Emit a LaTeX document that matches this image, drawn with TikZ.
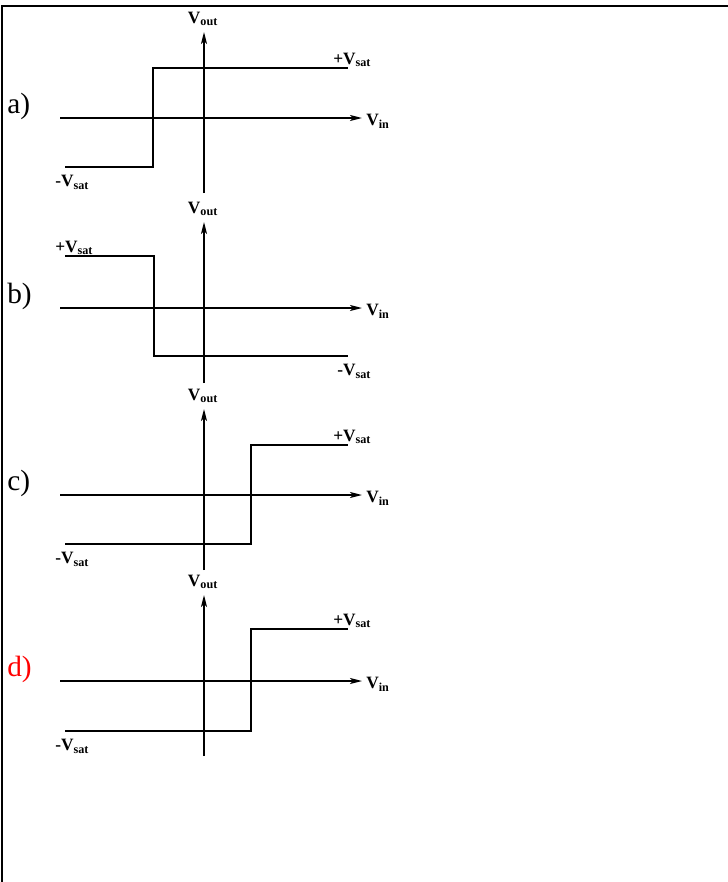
\documentclass[tikz,border=0pt]{standalone}
\usepackage{fontspec}
\setmainfont{Liberation Serif}
\usetikzlibrary{arrows.meta}
\tikzset{
  axis/.style={line width=1.1pt,-{Stealth[length=9pt,width=4.5pt,inset=2pt]}},
  trace/.style={line width=1.1pt},
  vlab/.style={font=\fontsize{13}{15}\selectfont\bfseries,inner sep=0pt},
  plab/.style={font=\fontsize{22}{26}\selectfont,inner sep=0pt,anchor=west}
}
\newcommand{\vsub}[1]{V\textsubscript{#1}}

\begin{document}
\begin{tikzpicture}[x=0.75pt,y=-0.75pt]
    \useasboundingbox (0,0) rectangle (728,882);
    \draw[line width=1.6pt] (2,882) -- (2,6) -- (728,6);
    \foreach \name/\yy/\xs/\ly/\ry/\col in
      {a/118/153/49/-50/black, b/308/154/-52/48/black, c/495/251/49/-50/black, d/681/251/50/-52/red}
    {
        \begin{scope}[shift={(0,\yy)}]
            \node[plab,text=\col] (lbl-\name) at (7,-12) {\name)};
            \coordinate (left-\name) at (60,0);
            \coordinate (right-\name) at (362,0);
            \coordinate (bot-\name) at (204,75);
            \coordinate (top-\name) at (204,-86);
            \draw[axis] (left-\name) -- (right-\name);
            \draw[axis] (bot-\name) -- (top-\name);
            \node[vlab,anchor=west] (vin-\name) at (366,3) {\vsub{in}};
            \node[vlab] (vout-\name) at (203,-99) {\vsub{out}};
            \draw[trace] (65,\ly) -- (\xs,\ly) -- (\xs,\ry) -- (348,\ry);
            \ifnum\ly>0
                \node[vlab,anchor=north west] (lo-\name) at (55,\ly+8) {-\vsub{sat}};
                \node[vlab,anchor=south west] (hi-\name) at (333,\ry-1) {+\vsub{sat}};
            \else
                \node[vlab,anchor=south west] (hi-\name) at (55,\ly-1) {+\vsub{sat}};
                \node[vlab,anchor=north west] (lo-\name) at (337,\ry+8) {-\vsub{sat}};
            \fi
        \end{scope}
    }
\end{tikzpicture}
\end{document}
